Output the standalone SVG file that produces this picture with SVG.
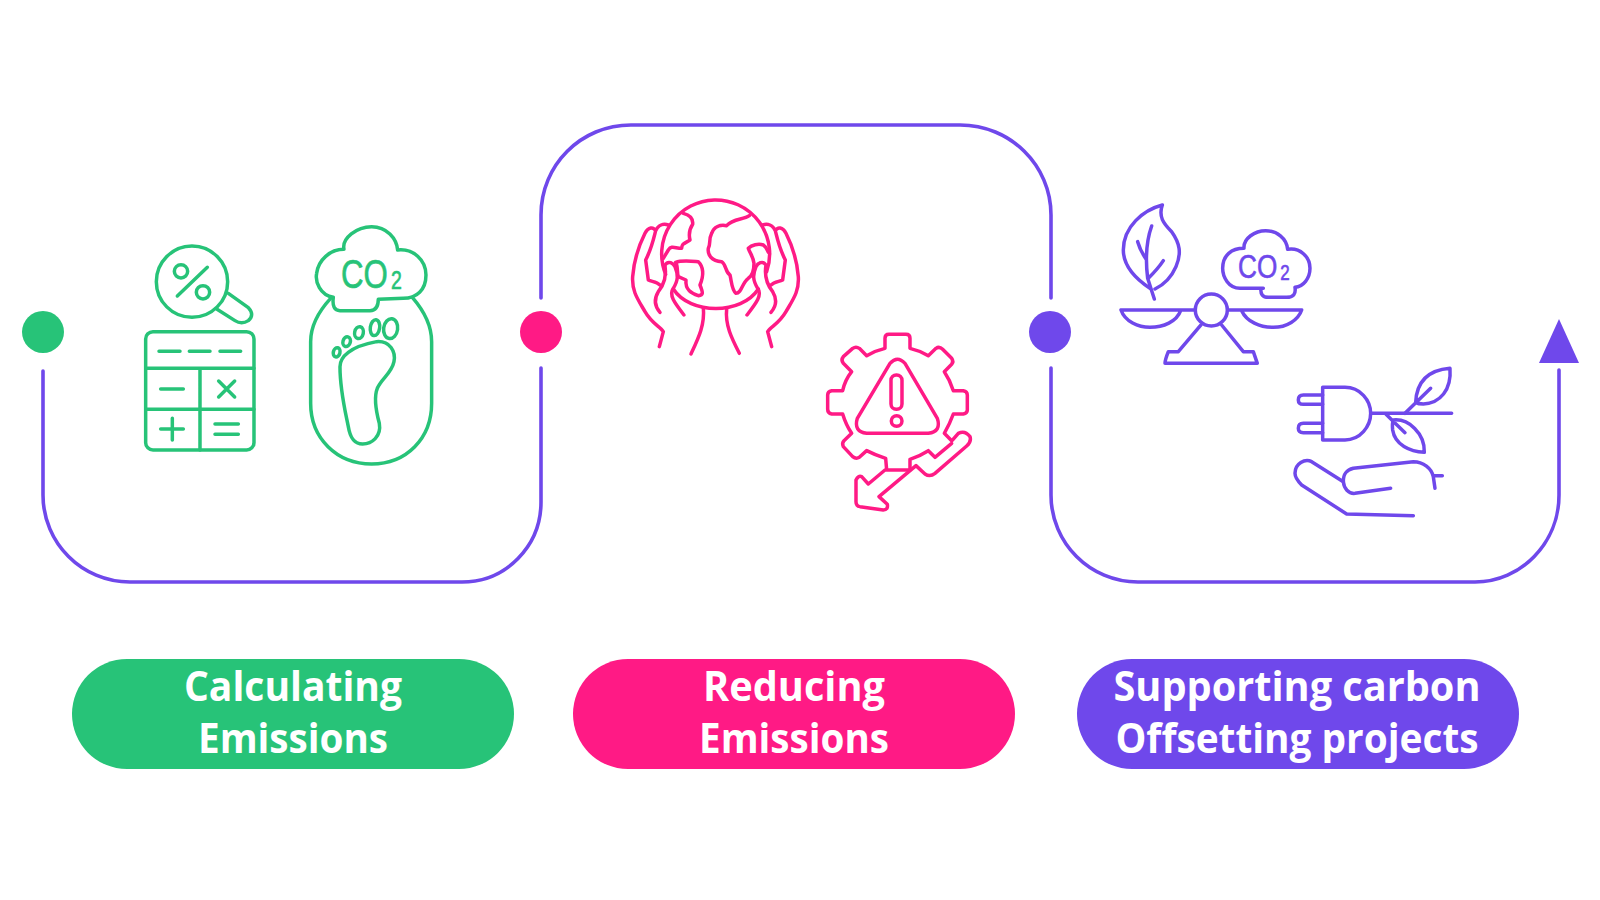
<svg xmlns="http://www.w3.org/2000/svg" width="1600" height="900" viewBox="0 0 1600 900">
<style>
.ic{fill:none;stroke-width:10.5;stroke-linecap:round;stroke-linejoin:round}
.gs{stroke:#27c378}.ps{stroke:#ff1a85}.vs{stroke:#6f48eb}
.flow{fill:none;stroke:#6f48eb;stroke-width:3.6;stroke-linecap:round}
.lbl{font-family:"Open Sans","Noto Sans",sans-serif;font-weight:700;font-size:41px;fill:#fff;text-anchor:middle;font-variant-ligatures:none}
.co{font-family:"Liberation Sans",sans-serif;stroke-width:.6}
</style>
<rect width="1600" height="900" fill="#fff"/>
<g id="connectors">
<path class="flow" d="M43 371V495C43 543 82 582 130 582H462C506 582 541 546 541 502V368"/>
<path class="flow" d="M541 298V215C541 165 581 125 631 125H960C1010 125 1051 165 1051 215V298"/>
<path class="flow" d="M1051 368V495C1051 543 1090 582 1138 582H1475C1521 582 1559 543 1559 495V370"/>
<polygon points="1559,319 1579,363 1539,363" fill="#6f48eb"/>
</g>
<g id="dot-1"><circle cx="43" cy="332" r="21" fill="#27c378"/></g>
<g id="dot-2"><circle cx="541" cy="332" r="21" fill="#ff1a85"/></g>
<g id="dot-3"><circle cx="1050" cy="332" r="21" fill="#6f48eb"/></g>

<g id="icon-calculator" class="ic gs" transform="translate(120,210) scale(.3333)">
<circle cx="216" cy="215" r="107"/>
<path d="M325 250L385 293Q405 315 385 332Q365 345 345 332L290 297"/>
<path d="M172 258L262 172"/><circle cx="183" cy="184" r="20"/><circle cx="249" cy="247" r="20"/>
<rect x="77" y="365" width="325" height="355" rx="22"/>
<path d="M77 475H402M77 598H402M240 475V720M117 424H180M208 424H270M300 424H362M122 537H190M296 513L344 561M344 513L296 561M122 657H190M157 625V690M285 642H355M285 673H355"/>
</g>
<g id="icon-footprint" class="ic gs" transform="translate(120,210) scale(.3333)">
<path d="M632 265C595 305 572 350 572 395V580C572 685 650 762 755 762C860 762 935 685 935 580V395C935 345 910 300 877 262"/>
<path d="M640 262C600 255 585 215 590 190C595 150 630 118 672 118C665 85 710 50 755 50C800 50 830 85 833 120C880 115 918 150 918 195C918 240 890 265 850 265L775 268Q775 302 750 302H660Q635 302 640 262Z"/>
<path d="M660 470C660 440 690 410 770 395C810 392 828 425 822 455C815 490 785 505 772 535C760 565 770 610 778 640C785 680 755 702 728 702C700 702 690 680 685 650C675 600 660 540 660 470Z"/>
<ellipse cx="812" cy="356" rx="21" ry="30" transform="rotate(8 812 356)"/>
<ellipse cx="765" cy="353" rx="14" ry="24" transform="rotate(8 765 353)"/>
<ellipse cx="717" cy="368" rx="13" ry="18" transform="rotate(12 717 368)"/>
<ellipse cx="680" cy="395" rx="11" ry="15" transform="rotate(15 680 395)"/>
<ellipse cx="650" cy="427" rx="10" ry="14" transform="rotate(15 650 427)"/>
</g>
<text class="co" fill="#27c378" stroke="#27c378" transform="translate(341,288) scale(.78,1)" font-size="40">CO<tspan font-size="25" dx="4" dy="1">2</tspan></text>

<g id="icon-globe" class="ic ps" transform="translate(610,185) scale(.3333)">
<path d="M167 268A162 162 0 1 1 470 260"/>
<path d="M190 312C240 390 395 390 445 312"/>
<path d="M220 85C240 90 250 100 248 118C240 130 235 145 240 165C225 175 215 175 215 190C195 190 185 180 175 195L160 220"/>
<path d="M418 92C400 105 370 100 350 122C330 118 312 125 305 145C295 165 303 175 295 190C292 210 305 228 335 230C350 240 345 260 360 270C365 290 365 315 378 325C395 325 395 295 415 280C430 270 432 255 432 235C430 215 420 205 415 190C425 180 445 175 460 180C475 190 470 200 478 205"/>
<path d="M197 232C215 225 240 228 265 230C285 250 280 275 270 300C280 325 280 330 265 332C245 325 225 315 228 285L205 275C200 260 205 245 197 232Z"/>
<path d="M243 507C265 460 285 420 280 368M388 505C365 460 345 420 350 372"/>
<g id="hand-left">
<path d="M148 485L160 440C150 425 125 415 105 380C85 345 65 320 68 275C72 220 85 185 105 145C115 125 130 125 137 137C130 165 125 190 107 225L115 285C125 290 140 290 150 300M137 137C145 120 160 115 175 120"/>
<path d="M150 382C135 365 130 345 145 320C165 295 170 270 165 240C175 225 190 235 195 245C205 270 205 285 190 310C175 330 195 355 222 390"/>
</g>
<g id="hand-right" transform="translate(633,0) scale(-1,1)">
<path d="M148 485L160 440C150 425 125 415 105 380C85 345 65 320 68 275C72 220 85 185 105 145C115 125 130 125 137 137C130 165 125 190 107 225L115 285C125 290 140 290 150 300M137 137C145 120 160 115 175 120"/>
<path d="M150 382C135 365 130 345 145 320C165 295 170 270 165 240C175 225 190 235 195 245C205 270 205 285 190 310C175 330 195 355 222 390"/>
</g>
</g>

<g id="icon-gear" class="ic ps" transform="translate(810,320) scale(.3333)">
<path d="M425 362L403 340Q420 310 430 282H460Q472 280 472 270V225Q472 214 460 212H430Q420 180 403 155L425 133Q432 125 425 115L398 88Q388 78 378 85L355 107Q330 92 300 85V55Q300 43 288 43H237Q225 43 225 55V85Q195 92 170 107L148 85Q138 78 128 85L100 110Q92 120 100 130L125 155Q105 180 98 212H65Q53 214 53 225V268Q53 280 65 282H98Q108 315 125 340L102 362Q95 370 100 380L128 410Q138 418 148 412L170 392Q195 405 227 415L230 450H300V418Q330 408 355 392L375 412L425 370"/>
<path d="M240 130Q262 105 285 130L382 295Q395 335 355 340H170Q130 335 142 295Z"/>
<rect x="243" y="165" width="33" height="103" rx="16"/>
<circle cx="260" cy="303" r="16"/>
<path d="M428 360L445 340Q465 330 480 350Q485 365 470 378L375 460Q360 472 345 462L318 437L207 530L232 553Q235 570 220 570L150 560Q138 558 138 545V480Q145 465 155 470L175 492L225 450"/>
</g>

<g id="icon-scale" class="ic vs" transform="translate(1100,190) scale(.3333)">
<path d="M187 45C130 60 70 110 70 180C70 230 105 265 150 295M187 45C175 80 190 100 215 125C240 160 245 190 228 230C215 260 190 285 165 297"/>
<path d="M155 108C140 150 135 200 143 265L163 327M113 155C120 180 130 195 138 207M190 212C175 235 160 250 145 265"/>
<path d="M490 295H420C385 295 368 260 368 235C368 195 395 175 432 175C430 145 465 122 497 122C530 122 560 145 563 178C600 172 630 200 630 235C630 265 610 290 585 292Q590 322 560 322H505Q480 322 483 295"/>
<path d="M63 360H285M385 360H605M63 360C75 395 115 412 150 412C190 412 230 395 242 362M425 362C440 395 480 412 520 412C560 412 595 390 605 360"/>
<circle cx="334" cy="360" r="48"/>
<path d="M303 405L235 485H205Q195 510 195 520H472L460 485H430L365 405"/>
</g>
<text class="co" fill="#6f48eb" stroke="#6f48eb" transform="translate(1238,278) scale(.77,1)" font-size="34">CO<tspan font-size="22" dx="4" dy="2">2</tspan></text>

<g id="icon-plug" class="ic vs" transform="translate(1280,360) scale(.3333)">
<path d="M128 82H195C240 82 272 120 272 160C272 200 240 240 195 240H128Z"/>
<path d="M128 105H70Q55 105 55 120Q55 133 70 133H128M128 190H70Q55 190 55 205Q55 218 70 218H128M272 160H515"/>
<path d="M407 128C410 60 450 30 510 25C515 90 480 130 430 132Q415 132 407 128ZM375 160L452 85"/>
<path d="M340 180C385 175 435 220 433 277C390 275 345 255 338 210Q336 190 340 180ZM318 163L375 218"/>
<path d="M190 365L95 305C75 295 45 310 45 340C45 355 55 365 65 375L200 462L400 467"/>
<path d="M190 365C190 340 200 330 220 325L400 305C430 305 455 325 460 350L465 385M460 347H487M332 385L225 400C205 402 192 385 190 365"/>
</g>

<g id="label-1">
<rect x="72" y="659" width="442" height="110" rx="55" fill="#27c378"/>
<text class="lbl" x="293" y="701" textLength="218" lengthAdjust="spacingAndGlyphs">Calculating</text>
<text class="lbl" x="293" y="753" textLength="190" lengthAdjust="spacingAndGlyphs">Emissions</text>
</g>
<g id="label-2">
<rect x="573" y="659" width="442" height="110" rx="55" fill="#ff1a85"/>
<text class="lbl" x="794" y="701" textLength="182" lengthAdjust="spacingAndGlyphs">Reducing</text>
<text class="lbl" x="794" y="753" textLength="190" lengthAdjust="spacingAndGlyphs">Emissions</text>
</g>
<g id="label-3">
<rect x="1077" y="659" width="442" height="110" rx="55" fill="#6f48eb"/>
<text class="lbl" x="1297" y="701" textLength="367" lengthAdjust="spacingAndGlyphs">Supporting carbon</text>
<text class="lbl" x="1297" y="753" textLength="363" lengthAdjust="spacingAndGlyphs">Offsetting projects</text>
</g>
</svg>
